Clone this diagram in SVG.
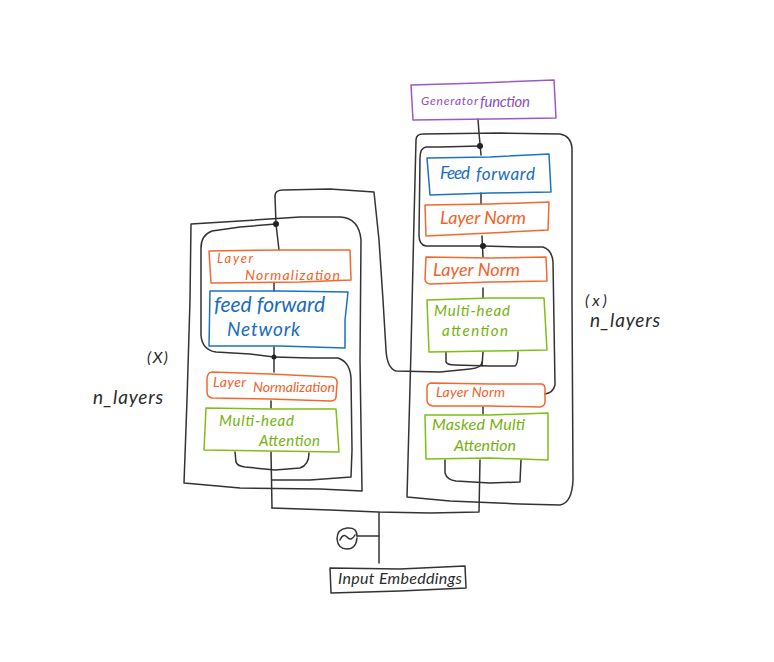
<svg xmlns="http://www.w3.org/2000/svg" width="774" height="662" viewBox="0 0 774 662">
<style>
.c{fill:none;stroke:#333;stroke-width:1.5;stroke-linecap:round;stroke-linejoin:round}
.b{fill:none;stroke-width:1.5;stroke-linejoin:round}
.o .b{stroke:#f4682f}.o text{fill:#f0622a}
.g .b{stroke:#7fbf12}.g text{fill:#74b20c}
.u .b{stroke:#1a72c4}.u text{fill:#1a6cbc}
.p .b{stroke:#9b59c6}.p text{fill:#8e4db8}
.k .b{stroke:#333}.k text{fill:#2b2b2b}
text{font-family:"Lato","Liberation Sans",sans-serif;font-style:italic;font-weight:400}
.dot{fill:#222}
</style>
<rect width="774" height="662" fill="#fff"/>
<g id="connectors">
<path class="c" d="M184 483L187 400L190 300L191 224L240 221L300 217L340 217Q359 218 361 240L360 360L362 491L320 489L240 488L184 483"/>
<path class="c" d="M423 134L500 133L560 134Q571 136 572 148L572 300L573 480Q572 503 560 505L520 504L450 501L407 497L411 350L414 220L416 140Q416 134 423 134Z"/>
<path class="c" d="M275 196Q275 190 283 190L330 189L374 192L379 240L383 300L386 350Q387 368 396 371L440 372L470 369Q482 368 482 362"/>
<path class="c" d="M275 196L276 224L279 250"/>
<path class="c" d="M276 224L240 227L212 231Q201 235 201 248L201 335Q202 350 216 352L250 354L274 357"/>
<path class="c" d="M274 357L310 358L338 358Q350 362 351 378L352 450L351 477L310 480L272 480"/>
<path class="c" d="M274 283L274 291"/>
<path class="c" d="M274 347L274 372"/>
<path class="c" d="M271 401L271 408"/>
<path class="c" d="M235 452L236 462Q237 466 245 467L275 470L300 468Q309 465 309 453"/>
<path class="c" d="M271 452L272 508"/>
<path class="c" d="M272 508L330 510L378 512L430 513L479 512L480 460"/>
<path class="c" d="M379 512L379 563"/>
<path class="c" d="M357 536L379 536"/>
<path class="c" d="M478 119L479 133L481 155"/>
<path class="c" d="M480 146L440 147L426 147Q420 148 420 158L419 235Q419 245 426 246L483 246"/>
<path class="c" d="M483 246L520 247L543 247Q552 250 553 262L555 385Q553 393 545 394"/>
<path class="c" d="M481 193L481 204"/>
<path class="c" d="M482 236L483 257"/>
<path class="c" d="M483 288L483 298"/>
<path class="c" d="M446 352L446 362Q447 365 455 365L490 366L515 366Q518 365 518 352"/>
<path class="c" d="M483 352L482 366"/>
<path class="c" d="M483 407L483 414"/>
<path class="c" d="M445 460L445 473Q447 480 456 481L490 483L520 482L521 460"/>
<circle class="dot" cx="276" cy="224" r="3"/>
<circle class="dot" cx="274" cy="357" r="2.5"/>
<circle class="dot" cx="480" cy="146" r="3"/>
<circle class="dot" cx="483" cy="246" r="3"/>
</g>
<g id="sum-symbol">
<path class="c" d="M357 536Q357 527 347 528Q337 529 337 539Q338 549 347 549Q356 549 357 538"/>
<path class="c" d="M340 540Q343 533 347 537Q351 542 355 535"/>
</g>
<g id="enc-norm-top" class="o"><path class="b" d="M209 251L280 250L350 250L351 280L300 282L211 283Z"/>
<text x="217" y="263" font-size="13" textLength="36">Layer</text><text x="245" y="280" font-size="14" textLength="95">Normalization</text></g>
<g id="enc-feed-forward" class="u"><path class="b" d="M210 291L280 291L348 292L345 320L345 348L280 346L209 346Z"/>
<text x="214" y="312" font-size="21" textLength="111">feed forward</text><text x="227" y="336" font-size="19" textLength="73">Network</text></g>
<g id="enc-norm-bottom" class="o"><path class="b" d="M212 372L270 374L332 377Q338 378 337 384L336 397Q336 401 330 401L270 399L212 398Q207 397 207 392L207 378Q208 372 212 372"/>
<text x="213" y="387" font-size="14" textLength="33">Layer</text><text x="253" y="392" font-size="14" textLength="82">Normalization</text></g>
<g id="enc-attention" class="g"><path class="b" d="M206 408L270 409L336 409L339 452L270 451L204 450Z"/>
<text x="219" y="426" font-size="15" textLength="75">Multi-head</text><text x="259" y="446" font-size="15" textLength="61">Attention</text></g>
<g id="generator" class="p"><path class="b" d="M411 85L480 83L554 80L556 118L490 119L413 120Z"/>
<text x="421" y="105" font-size="12" textLength="57">Generator</text><text x="480" y="107" font-size="15" textLength="50">function</text></g>
<g id="dec-feed-forward" class="u"><path class="b" d="M427 158L490 157L549 154L551 192L490 193L430 195Z"/>
<text x="440" y="179" font-size="17" textLength="30">Feed</text><text x="476" y="180" font-size="17" textLength="59">forward</text></g>
<g id="dec-norm-top" class="o"><path class="b" d="M425 205L490 204L549 202L548 230L490 233L426 236Z"/>
<text x="440" y="224" font-size="18" textLength="86">Layer Norm</text></g>
<g id="dec-norm-mid" class="o"><path class="b" d="M426 257L490 258L546 257L547 281L490 282L430 284Q425 283 425 279Z"/>
<text x="433" y="276" font-size="18" textLength="87">Layer Norm</text></g>
<g id="dec-attention" class="g"><path class="b" d="M427 300L490 298L544 298L547 350L490 351L429 352Z"/>
<text x="434" y="316" font-size="15" textLength="76">Multi-head</text><text x="442" y="336" font-size="15" textLength="66">attention</text></g>
<g id="dec-norm-bottom" class="o"><path class="b" d="M432 383L490 384L541 384Q545 384 545 389L545 402Q545 406 540 407L490 406L433 406Q427 405 427 400L427 388Q427 383 432 383"/>
<text x="436" y="397" font-size="14" textLength="69">Layer Norm</text></g>
<g id="dec-masked-attention" class="g"><path class="b" d="M425 415L490 415L548 413L548 460L490 458L426 459Z"/>
<text x="432" y="430" font-size="16" textLength="93">Masked Multi</text><text x="454" y="451" font-size="16" textLength="62">Attention</text></g>
<g id="input-embeddings" class="k"><path class="b" d="M330 568L400 569L465 566L466 588L400 591L331 593Z"/>
<text x="338" y="584" font-size="16" textLength="124">Input Embeddings</text></g>
<g id="encoder-label" class="k"><text x="147" y="363" font-size="16" textLength="21">(X)</text><text x="93" y="404" font-size="19" textLength="70">n_layers</text></g>
<g id="decoder-label" class="k"><text x="585" y="306" font-size="16" textLength="22">(x)</text><text x="590" y="327" font-size="19" textLength="70">n_layers</text></g>
</svg>
